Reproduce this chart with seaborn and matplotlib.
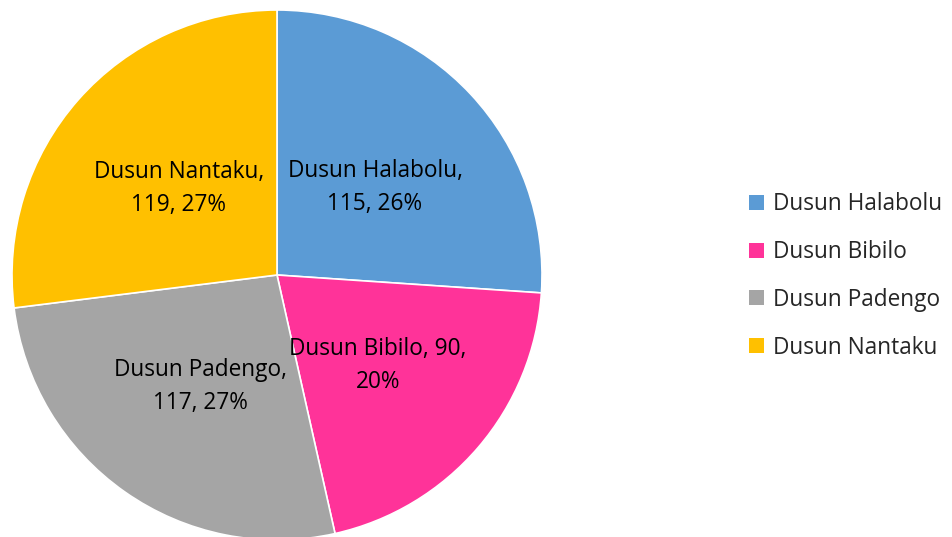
import matplotlib
matplotlib.use("Agg")
import matplotlib.pyplot as plt
import seaborn as sns
from matplotlib.patches import Patch

categories = ["Dusun Halabolu", "Dusun Bibilo", "Dusun Padengo", "Dusun Nantaku"]
values = [115, 90, 117, 119]
colors = ["#5B9BD5", "#FF3399", "#A5A5A5", "#FFC000"]

sns.set_theme(style="white")
plt.rcParams["font.family"] = ["Open Sans", "DejaVu Sans"]

fig = plt.figure(figsize=(9.52, 5.37), dpi=100)
ax = fig.add_axes([12 / 952, -3 / 537, 530 / 952, 530 / 537])

total = sum(values)


def label_for(i):
    pct = round(values[i] / total * 100)
    if i == 1:
        # the narrow slice wraps differently in the reference
        return f"{categories[i]}, {values[i]},\n{pct}%"
    return f"{categories[i]},\n{values[i]}, {pct}%"


wedges, _ = ax.pie(
    values,
    colors=sns.color_palette(colors),
    startangle=90,
    counterclock=False,
    radius=1,
    wedgeprops={"edgecolor": "white", "linewidth": 1.2},
)

# label positions (fraction of radius) tuned to the reference
label_pos = [(0.37, 0.33), (0.38, -0.34), (-0.29, -0.42), (-0.37, 0.325)]
for i, (x, y) in enumerate(label_pos):
    ax.text(x, y, label_for(i), ha="center", va="center", fontsize=16.3,
            color="black", linespacing=1.5)

ax.set_xlim(-1, 1)
ax.set_ylim(-1, 1)
ax.set_aspect("equal")
ax.axis("off")

handles = [Patch(facecolor=c, edgecolor="none") for c in colors]
fig.legend(
    handles, categories,
    loc="center left", bbox_to_anchor=(729 / 952, 1 - 276 / 537),
    frameon=False, fontsize=16.3, handlelength=0.65, handleheight=0.65,
    handletextpad=0.4, labelspacing=1.05,
)

fig.savefig("out.png", dpi=100)
